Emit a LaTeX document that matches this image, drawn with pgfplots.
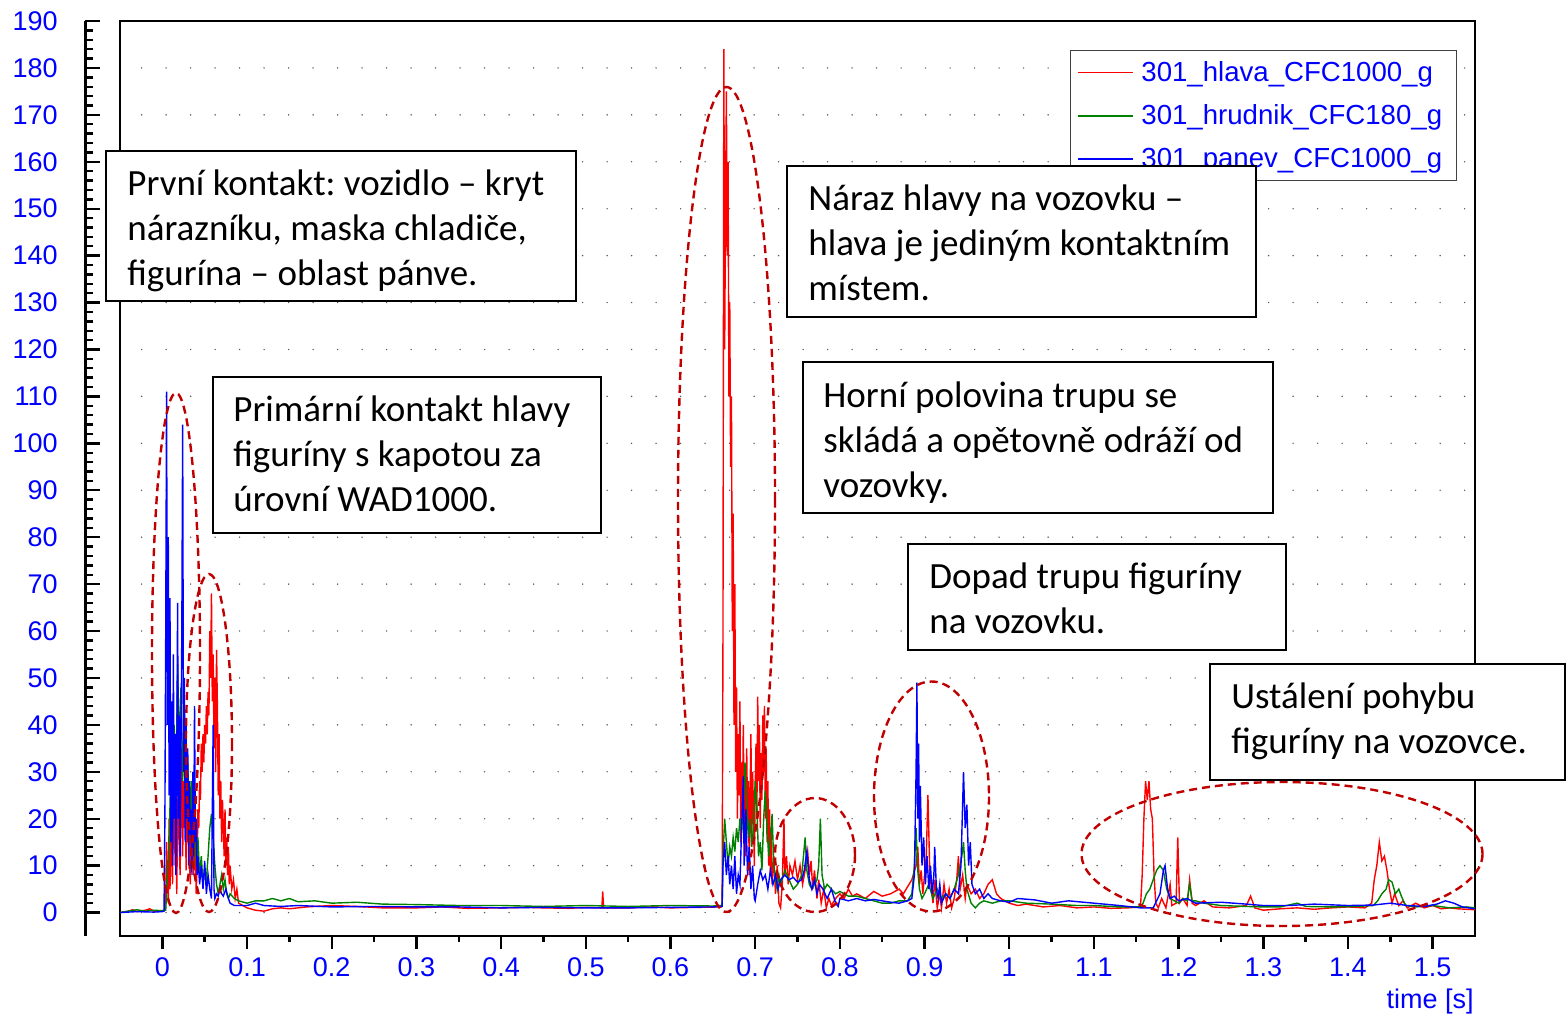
\documentclass[border=0pt]{standalone}
\usepackage{pgfplots}
\pgfplotsset{compat=1.18}
\usepackage{fontspec}
\setmainfont{Liberation Sans}
\newfontfamily\calfont{Carlito}
\frenchspacing
\definecolor{ellred}{RGB}{192,0,0}
\definecolor{dgreen}{RGB}{0,128,0}
\definecolor{pred}{RGB}{255,0,0}
\newcommand{\bline}[3]{\node[anchor=base west, inner sep=0pt, font=\calfont\fontsize{18.5}{22.5}\selectfont] at (#1,#2) {#3};}
\newcommand{\lgline}[4]{\draw[#1, line width=0.65pt] (1078,#2) -- (1133,#2); \node[anchor=base west, inner sep=0pt, text=blue, font=\fontsize{13.8}{16}\selectfont] at (1141,#3) {#4};}
\begin{document}
\begin{tikzpicture}
\useasboundingbox (0pt,0pt) rectangle (783pt,-506.5pt);
\begin{axis}[
  at={(60pt,-468pt)}, anchor=south west, scale only axis,
  width=677.5pt, height=457.5pt,
  xmin=-0.05, xmax=1.55, ymin=-5, ymax=190,
  axis line style={line width=1.2pt},
  xtick={0,0.1,0.2,0.3,0.4,0.5,0.6,0.7,0.8,0.9,1,1.1,1.2,1.3,1.4,1.5},
  minor x tick num=1,
  xtick pos=bottom, tick align=outside,
  major tick length=6.5pt, minor tick length=3pt,
  every tick/.style={black, line width=1.2pt},
  ytick={0,10,...,180}, yticklabels={}, ytick style={draw=none},
  ymajorgrids,
  grid style={black!65, line width=0.8pt, dash pattern=on 0pt off 12.25pt, line cap=round, dash phase=-10.8pt},
  /pgf/number format/assume math mode=true,
  xticklabel style={font=\fontsize{13.5}{16}\selectfont, text=blue, yshift=-1pt},
]
\addplot[pred, line width=0.7pt] coordinates {
(-0.05,0) (-0.04,0.3) (-0.035,0.6) (-0.03,0.2) (-0.02,0.5) (-0.015,0.8) (-0.01,0.3) (0,0.4) (0.003,0.5)
(0.004,3) (0.005,15) (0.006,8) (0.007,2) (0.008,20) (0.009,5) (0.010,12) (0.011,28) (0.012,6) (0.013,18) (0.014,32) (0.015,10) (0.016,25) (0.017,4) (0.018,20) (0.019,30) (0.020,14) (0.021,8) (0.022,24) (0.023,35) (0.024,12) (0.025,28) (0.026,18) (0.027,30) (0.028,9) (0.029,22) (0.030,15) (0.031,26) (0.032,12) (0.033,6) (0.034,20) (0.035,14) (0.036,22) (0.037,8) (0.038,16) (0.039,12) (0.040,4) (0.041,10) (0.042,22) (0.043,18) (0.044,28) (0.045,24) (0.046,36) (0.047,30) (0.048,38) (0.049,32) (0.050,40) (0.051,36) (0.052,44) (0.053,38) (0.054,47) (0.055,42) (0.056,60) (0.057,50) (0.058,68) (0.059,45) (0.060,55) (0.061,35) (0.062,50) (0.063,30) (0.064,56) (0.065,44) (0.066,25) (0.067,38) (0.068,20) (0.069,28) (0.070,15) (0.071,24) (0.072,18) (0.073,12) (0.074,22) (0.075,10) (0.076,16) (0.077,8) (0.078,14) (0.079,6) (0.080,10) (0.082,5) (0.084,7) (0.086,3) (0.088,5) (0.09,2) (0.095,1.5) (0.1,1) (0.11,0.5) (0.12,0.3) (0.13,0.8) (0.14,1) (0.15,0.8) (0.17,1.2) (0.2,1.5) (0.23,1.3) (0.26,1) (0.3,1) (0.33,1.2) (0.36,0.9) (0.4,1) (0.43,1.1) (0.45,1) (0.48,0.9) (0.5,1.1) (0.519,1) (0.52,4.5) (0.521,1) (0.55,1) (0.58,1.2) (0.6,1) (0.63,1.1) (0.66,1.2) (0.661,2)
(0.662,60) (0.663,184) (0.664,120) (0.665,150) (0.666,175) (0.667,140) (0.668,160) (0.669,110) (0.670,130) (0.671,95) (0.672,110) (0.673,60) (0.674,85) (0.675,40) (0.676,70) (0.677,30) (0.678,48) (0.679,20) (0.680,38) (0.681,25) (0.682,45) (0.683,15) (0.684,32) (0.685,22) (0.686,40) (0.687,18) (0.688,30) (0.689,12) (0.690,35) (0.691,20) (0.692,28) (0.693,8) (0.694,25) (0.695,38) (0.696,16) (0.697,30) (0.698,22) (0.699,10) (0.700,26) (0.701,36) (0.702,20) (0.703,46) (0.704,28) (0.705,40) (0.706,18) (0.707,34) (0.708,24) (0.709,42) (0.710,30) (0.711,44) (0.712,20) (0.713,35) (0.714,15) (0.715,28) (0.716,10) (0.717,22) (0.718,8) (0.719,18) (0.720,6) (0.722,12) (0.724,4) (0.726,10) (0.728,2) (0.730,1) (0.732,6) (0.734,20) (0.735,8) (0.737,12) (0.739,6) (0.741,10) (0.744,8) (0.747,11) (0.750,7) (0.753,10) (0.756,6) (0.759,9) (0.762,13) (0.764,8) (0.766,11) (0.768,5) (0.770,9) (0.773,3) (0.775,7) (0.778,2) (0.781,5) (0.784,1) (0.787,3) (0.79,1.5) (0.795,3) (0.8,4) (0.805,3) (0.81,5) (0.815,3.5) (0.82,4) (0.83,3) (0.84,4.5) (0.85,3.5) (0.86,4) (0.87,5) (0.875,4) (0.88,5.5) (0.885,7) (0.89,10) (0.892,14) (0.894,6) (0.896,9) (0.898,4) (0.900,8) (0.902,12) (0.904,25) (0.906,10) (0.908,5) (0.910,2) (0.912,7) (0.915,1) (0.918,4) (0.920,1) (0.923,6) (0.926,2) (0.929,5) (0.932,1) (0.935,3) (0.938,7) (0.940,12) (0.942,5) (0.945,8) (0.948,3) (0.95,6) (0.955,4) (0.96,5) (0.965,3) (0.97,4) (0.975,6) (0.98,7) (0.985,4) (0.99,3) (1.0,2) (1.01,1.5) (1.02,1.8) (1.04,1.2) (1.06,1.5) (1.08,1) (1.1,1.2) (1.12,0.9) (1.14,1) (1.155,1.2) (1.157,8) (1.159,20) (1.161,28) (1.163,24) (1.165,28) (1.167,22) (1.169,20) (1.171,8) (1.173,2) (1.176,1) (1.18,3) (1.185,1) (1.19,6) (1.192,1.5) (1.197,2) (1.199,16) (1.201,2) (1.205,3) (1.21,1.5) (1.213,7) (1.216,2) (1.22,1.5) (1.23,2.5) (1.24,1.2) (1.26,1) (1.28,1.5) (1.285,3.5) (1.29,1) (1.3,0.5) (1.32,0.8) (1.34,1) (1.36,0.7) (1.38,1) (1.4,1.2) (1.42,1) (1.428,2) (1.431,7) (1.434,10) (1.437,15) (1.44,11) (1.443,12) (1.446,9) (1.449,5) (1.452,2) (1.455,4) (1.46,1.5) (1.465,2.5) (1.47,1) (1.48,2) (1.49,1) (1.5,1.5) (1.51,0.8) (1.52,1) (1.53,0.8) (1.55,0.6)
};
\addplot[dgreen, line width=0.7pt] coordinates {
(-0.05,0) (-0.03,0.6) (-0.02,0.3) (-0.01,0.5) (0,0.4) (0.004,0.5) (0.006,8) (0.008,15) (0.010,30) (0.012,18) (0.014,40) (0.016,25) (0.018,53) (0.020,35) (0.022,48) (0.024,28) (0.026,42) (0.028,20) (0.030,32) (0.032,18) (0.034,28) (0.036,14) (0.038,22) (0.040,10) (0.042,16) (0.044,8) (0.046,12) (0.048,6) (0.050,9) (0.052,7) (0.054,12) (0.056,18) (0.058,21) (0.060,16) (0.062,10) (0.064,6) (0.066,4) (0.068,6) (0.070,8) (0.072,5) (0.074,7) (0.076,4) (0.078,3) (0.08,4) (0.085,3) (0.09,2.5) (0.1,2) (0.11,2.5) (0.12,2.5) (0.13,3) (0.14,2.5) (0.15,3) (0.16,2.3) (0.18,2.5) (0.2,2) (0.23,2.2) (0.26,1.8) (0.3,1.7) (0.35,1.5) (0.4,1.5) (0.45,1.3) (0.5,1.5) (0.55,1.3) (0.6,1.5) (0.65,1.4) (0.661,1.5)
(0.662,12) (0.664,20) (0.666,15) (0.668,10) (0.670,14) (0.672,12) (0.674,16) (0.676,13) (0.678,18) (0.680,15) (0.682,20) (0.684,17) (0.686,24) (0.688,32) (0.690,22) (0.692,16) (0.694,20) (0.696,14) (0.698,18) (0.700,28) (0.702,22) (0.704,12) (0.706,15) (0.708,9) (0.710,20) (0.712,26) (0.714,18) (0.716,12) (0.718,16) (0.720,21) (0.722,10) (0.724,7) (0.726,5) (0.728,8) (0.73,6) (0.735,9) (0.74,7) (0.745,5) (0.75,6) (0.755,8) (0.757,12) (0.759,16) (0.761,9) (0.764,6) (0.767,5) (0.77,6) (0.773,7) (0.775,10) (0.777,20) (0.779,8) (0.782,5) (0.785,6) (0.79,5) (0.795,4) (0.8,4.5) (0.81,3.5) (0.82,3.5) (0.83,3) (0.84,2.5) (0.85,2) (0.86,2) (0.87,2.5) (0.88,2.5) (0.885,4) (0.888,10) (0.890,18) (0.892,9) (0.894,5) (0.897,3) (0.9,4) (0.905,6) (0.91,3) (0.915,5) (0.92,3) (0.925,4) (0.93,3) (0.935,5) (0.94,8) (0.944,12) (0.946,15) (0.948,9) (0.95,5) (0.955,2) (0.96,1) (0.965,2) (0.97,2.5) (0.98,2) (0.99,2.5) (1.0,2.5) (1.02,2) (1.05,1.8) (1.08,1.5) (1.1,1.5) (1.13,1.2) (1.155,1.2) (1.158,2) (1.162,4) (1.166,5) (1.17,7) (1.174,9) (1.178,10) (1.182,9) (1.186,5) (1.19,3) (1.195,2.5) (1.2,2) (1.205,3) (1.21,2.5) (1.213,6) (1.216,2.5) (1.22,2.5) (1.23,2) (1.25,1.5) (1.28,1.3) (1.3,1.2) (1.32,1.2) (1.34,2) (1.35,1.3) (1.38,1.2) (1.41,1.3) (1.43,1.5) (1.435,2.5) (1.44,4) (1.445,5) (1.448,7) (1.452,6.5) (1.456,4) (1.46,5) (1.463,3.5) (1.468,1.5) (1.48,1.2) (1.5,1.5) (1.52,1) (1.54,1.2) (1.55,1)
};
\addplot[blue, line width=0.7pt] coordinates {
(-0.05,0) (-0.03,0.2) (-0.01,0.1) (0,0.2) (0.002,0.3) (0.003,20) (0.004,60) (0.005,111) (0.006,40) (0.007,80) (0.008,25) (0.009,67) (0.010,15) (0.011,45) (0.012,10) (0.013,55) (0.014,20) (0.015,38) (0.016,8) (0.017,30) (0.018,66) (0.019,20) (0.020,42) (0.021,12) (0.022,35) (0.023,60) (0.024,104) (0.025,30) (0.026,50) (0.027,15) (0.028,40) (0.029,20) (0.030,35) (0.031,10) (0.032,28) (0.033,15) (0.034,22) (0.035,8) (0.036,30) (0.037,12) (0.038,44) (0.039,15) (0.040,20) (0.041,8) (0.042,12) (0.044,6) (0.046,10) (0.048,5) (0.050,11) (0.052,4) (0.054,8) (0.056,5) (0.058,3) (0.060,40) (0.061,5) (0.062,3) (0.064,4) (0.066,3.5) (0.068,5) (0.07,4) (0.072,3.5) (0.075,5) (0.078,3) (0.08,2) (0.085,1.5) (0.09,1.5) (0.1,1.5) (0.11,2) (0.12,1.5) (0.14,1.3) (0.16,1.5) (0.2,1.2) (0.25,1.3) (0.3,1.2) (0.35,1.2) (0.4,1) (0.45,1.1) (0.5,1) (0.55,1) (0.6,1.1) (0.65,1.2) (0.661,1.3)
(0.662,10) (0.664,15) (0.666,8) (0.668,12) (0.670,6) (0.672,10) (0.674,5) (0.676,12) (0.678,4) (0.680,8) (0.682,6) (0.684,18) (0.686,29) (0.687,10) (0.689,22) (0.691,8) (0.693,14) (0.695,5) (0.697,10) (0.699,3) (0.7,2.5) (0.703,6) (0.706,9) (0.709,7) (0.712,8) (0.715,5) (0.718,9) (0.721,6) (0.724,8) (0.727,5) (0.73,7) (0.735,8) (0.74,7) (0.745,7.5) (0.75,6.5) (0.755,7) (0.758,9) (0.761,13) (0.764,7) (0.767,5) (0.77,7) (0.773,4) (0.776,6) (0.78,5) (0.785,3) (0.79,5) (0.795,2) (0.798,1.3) (0.8,3) (0.81,2.5) (0.82,3) (0.83,2.5) (0.84,2.8) (0.85,2.5) (0.86,2.2) (0.87,2) (0.88,2.5) (0.885,3) (0.888,8) (0.890,30) (0.891,49) (0.892,20) (0.893,36) (0.894,15) (0.895,27) (0.897,10) (0.899,16) (0.901,6) (0.903,12) (0.905,5) (0.907,10) (0.909,4) (0.911,8) (0.912,14) (0.914,5) (0.916,3) (0.918,6) (0.92,2) (0.925,4) (0.93,3) (0.935,5) (0.94,4) (0.943,10) (0.946,30) (0.948,18) (0.950,23) (0.952,10) (0.954,15) (0.956,6) (0.96,4) (0.965,5) (0.97,3) (0.975,4) (0.98,3) (0.99,2.5) (1.0,2.2) (1.01,3) (1.03,2.7) (1.05,2) (1.07,2.5) (1.1,2) (1.13,1.5) (1.155,1) (1.17,1) (1.178,4) (1.182,9) (1.184,10) (1.187,5) (1.19,3) (1.195,3.5) (1.2,2.5) (1.21,3) (1.22,2) (1.25,2.2) (1.28,1.8) (1.3,1.5) (1.33,1.5) (1.36,1.8) (1.4,1.5) (1.43,1.6) (1.45,2) (1.47,1.5) (1.49,1.3) (1.505,1.8) (1.515,2.5) (1.525,2) (1.535,1.2) (1.55,0.8)
};
\end{axis}
\begin{axis}[
  at={(42.5pt,-468pt)}, anchor=south west, scale only axis,
  width=10pt, height=457.5pt,
  xmin=0, xmax=1, ymin=-5, ymax=190,
  axis y line*=left, axis x line=none,
  axis line style={-, line width=1.5pt},
  ytick={0,10,...,190}, minor y tick num=4,
  tick align=inside,
  major tick length=7.5pt, minor tick length=4pt,
  every tick/.style={black, line width=1.2pt},
  /pgf/number format/assume math mode=true,
  yticklabel style={font=\fontsize{13.5}{16}\selectfont, text=blue, inner sep=0pt, anchor=east, xshift=-13.5pt},
]
\end{axis}
\begin{scope}[x=0.5pt,y=-0.5pt]
% legend
\draw[black!75, line width=0.5pt, fill=white] (1070,50) rectangle (1456,180);
\lgline{pred}{72.5}{81}{301\_hlava\_CFC1000\_g}
\lgline{dgreen}{116}{124}{301\_hrudnik\_CFC180\_g}
\lgline{blue}{159}{167.5}{301\_panev\_CFC1000\_g}
\tikzset{ell/.style={ellred, line width=1.2pt, dash pattern=on 4pt off 2.5pt}}
\draw[ell] (176,653) ellipse [x radius=24, y radius=260];
\draw[ell] (209,743) ellipse [x radius=23, y radius=169];
\draw[ell] (726.5,499.5) ellipse [x radius=48.5, y radius=412.5];
\draw[ell] (815,855) ellipse [x radius=40, y radius=57];
\draw[ell] (931.5,796.5) ellipse [x radius=57.5, y radius=115];
\draw[ell] (1282,854) ellipse [x radius=200.5, y radius=72];
\tikzset{box/.style={draw=black, fill=white, line width=1pt}}
\draw[box] (106,151) rectangle (576,301);
\bline{127}{195}{První kontakt: vozidlo – kryt}
\bline{127}{240}{nárazníku, maska chladiče,}
\bline{127}{285}{figurína – oblast pánve.}
\draw[box] (213,377) rectangle (601,533);
\bline{233}{421}{Primární kontakt hlavy}
\bline{233}{466}{figuríny s kapotou za}
\bline{233}{511}{úrovní WAD1000.}
\draw[box] (787,166) rectangle (1256,317);
\bline{808}{210}{Náraz hlavy na vozovku –}
\bline{808}{255}{hlava je jediným kontaktním}
\bline{808}{300}{místem.}
\draw[box] (803,362) rectangle (1273,513);
\bline{823}{407}{Horní polovina trupu se}
\bline{823}{452}{skládá a opětovně odráží od}
\bline{823}{497}{vozovky.}
\draw[box] (908,544) rectangle (1286,650);
\bline{929}{588}{Dopad trupu figuríny}
\bline{929}{633}{na vozovku.}
\draw[box] (1210,664) rectangle (1565,780);
\bline{1231}{708}{Ustálení pohybu}
\bline{1231}{753}{figuríny na vozovce.}
\node[anchor=base east, inner sep=0pt, text=blue, font=\fontsize{13.5}{16}\selectfont] at (1474,1008) {time [s]};
\end{scope}
\end{tikzpicture}
\end{document}
